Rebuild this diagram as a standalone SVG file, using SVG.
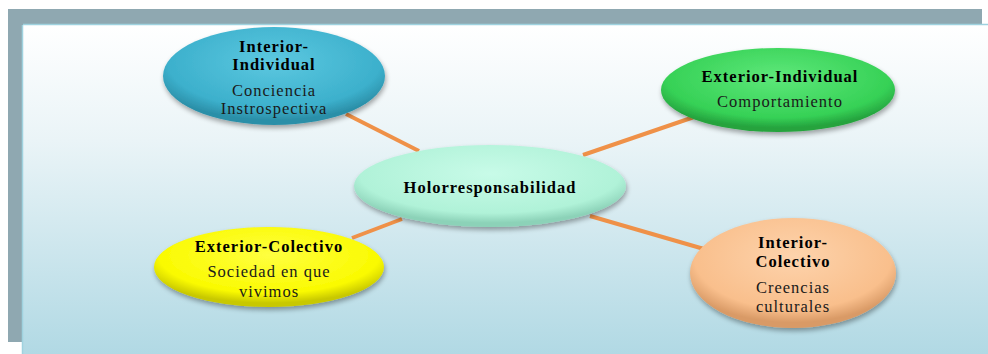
<svg xmlns="http://www.w3.org/2000/svg" width="988" height="354" viewBox="0 0 988 354">
<defs>
<linearGradient id="bg" x1="0" y1="0" x2="0" y2="1">
<stop offset="0" stop-color="#ffffff"/>
<stop offset="0.35" stop-color="#eaf4f7"/>
<stop offset="1" stop-color="#b1d9e4"/>
</linearGradient>
<radialGradient id="gBlue" cx="0.5" cy="0.35" r="0.6">
<stop offset="0" stop-color="#5cc8e0"/>
<stop offset="0.8" stop-color="#3cb0cc"/>
<stop offset="1" stop-color="#2b8fa8"/>
</radialGradient>
<radialGradient id="gGreen" cx="0.5" cy="0.35" r="0.6">
<stop offset="0" stop-color="#5ee87a"/>
<stop offset="0.8" stop-color="#36d156"/>
<stop offset="1" stop-color="#25a33e"/>
</radialGradient>
<radialGradient id="gMint" cx="0.5" cy="0.35" r="0.6">
<stop offset="0" stop-color="#c8fbe8"/>
<stop offset="0.8" stop-color="#b0f2d8"/>
<stop offset="1" stop-color="#8cd2b8"/>
</radialGradient>
<radialGradient id="gYellow" cx="0.5" cy="0.35" r="0.6">
<stop offset="0" stop-color="#ffff40"/>
<stop offset="0.8" stop-color="#fafa00"/>
<stop offset="1" stop-color="#c8c800"/>
</radialGradient>
<radialGradient id="gPeach" cx="0.5" cy="0.35" r="0.6">
<stop offset="0" stop-color="#fdd3ac"/>
<stop offset="0.8" stop-color="#f9bf8c"/>
<stop offset="1" stop-color="#d99a66"/>
</radialGradient>
<filter id="sh" x="-20%" y="-20%" width="140%" height="150%">
<feGaussianBlur in="SourceAlpha" stdDeviation="2.5"/>
<feOffset dx="1" dy="3" result="b"/>
<feComponentTransfer><feFuncA type="linear" slope="0.35"/></feComponentTransfer>
<feMerge><feMergeNode/><feMergeNode in="SourceGraphic"/></feMerge>
</filter>
</defs>
<style>
.t{font-family:"Liberation Serif","Times New Roman",serif;font-size:16.5px;fill:#1a1a1a;text-anchor:middle;letter-spacing:1px}
.b{font-weight:bold;fill:#000}
.c{stroke:#ef9148;stroke-width:4;fill:none}
</style>
<rect x="0" y="0" width="988" height="354" fill="#ffffff"/>
<rect x="8" y="9" width="974" height="333" fill="#8fa8b1"/>
<rect x="23" y="25" width="965" height="329" fill="url(#bg)"/>
<line x1="23" y1="24.5" x2="988" y2="24.5" stroke="#9fd2df" stroke-width="1.5"/>
<line x1="22.5" y1="25" x2="22.5" y2="354" stroke="#9fd2df" stroke-width="1.5"/>
<g id="connectors">
<line class="c" x1="346" y1="114" x2="419" y2="151"/>
<line class="c" x1="697" y1="116" x2="583" y2="155"/>
<line class="c" x1="352" y1="238" x2="402" y2="219"/>
<line class="c" x1="590" y1="216" x2="704" y2="249"/>
</g>
<g id="interior-individual">
<ellipse cx="274" cy="76" rx="111" ry="49" fill="url(#gBlue)" filter="url(#sh)"/>
<text class="t b" x="274" y="52">Interior-</text>
<text class="t b" x="274" y="70">Individual</text>
<text class="t" x="274" y="96">Conciencia</text>
<text class="t" x="274" y="114">Instrospectiva</text>
</g>
<g id="exterior-individual">
<ellipse cx="778" cy="90" rx="117" ry="42" fill="url(#gGreen)" filter="url(#sh)"/>
<text class="t b" x="780" y="82">Exterior-Individual</text>
<text class="t" x="780" y="107">Comportamiento</text>
</g>
<g id="holorresponsabilidad">
<ellipse cx="490" cy="186" rx="136" ry="41" fill="url(#gMint)" filter="url(#sh)"/>
<text class="t b" x="490" y="193">Holorresponsabilidad</text>
</g>
<g id="exterior-colectivo">
<ellipse cx="269" cy="267" rx="115" ry="40" fill="url(#gYellow)" filter="url(#sh)"/>
<text class="t b" x="269" y="252">Exterior-Colectivo</text>
<text class="t" x="269" y="277">Sociedad en que</text>
<text class="t" x="269" y="297">vivimos</text>
</g>
<g id="interior-colectivo">
<ellipse cx="793" cy="273" rx="103" ry="55" fill="url(#gPeach)" filter="url(#sh)"/>
<text class="t b" x="793" y="248">Interior-</text>
<text class="t b" x="793" y="267">Colectivo</text>
<text class="t" x="793" y="293">Creencias</text>
<text class="t" x="793" y="312">culturales</text>
</g>
</svg>
